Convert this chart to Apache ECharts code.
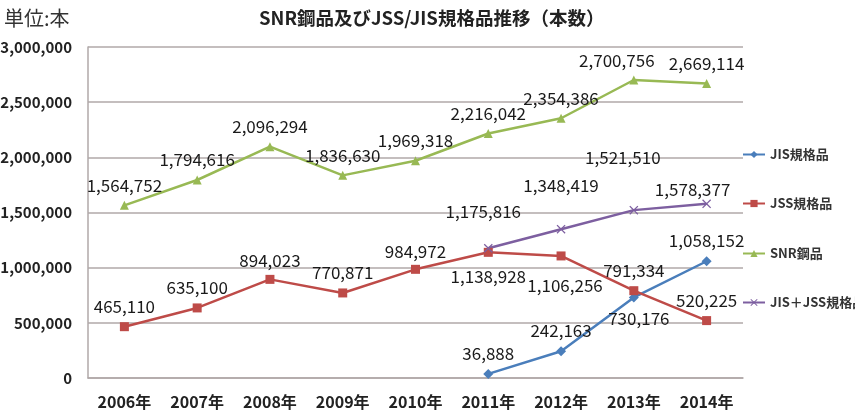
<!DOCTYPE html>
<html>
<head>
<meta charset="utf-8">
<script src="https://cdn.jsdelivr.net/npm/echarts@6/dist/echarts.min.js"></script>
<style>
  html, body { margin: 0; padding: 0; background: #fff; }
  #chart { width: 855px; height: 414px; }
</style>
</head>
<body>
<div id="chart"></div>
<script>
  // 年
  var years = ['2006年', '2007年', '2008年', '2009年', '2010年', '2011年', '2012年', '2013年', '2014年'];
  var seriesNames = ['JIS規格品', 'JSS規格品', 'SNR鋼品', 'JIS＋JSS規格品'];

  var jisData = [null, null, null, null, null, 36888, 242163, 730176, 1058152];
  var jssData = [465110, 635100, 894023, 770871, 984972, 1138928, 1106256, 791334, 520225];
  var snrData = [1564752, 1794616, 2096294, 1836630, 1969318, 2216042, 2354386, 2700756, 2669114];
  var sumData = [null, null, null, null, null, 1175816, 1348419, 1521510, 1578377];

  var colors = ['#4a7ebb', '#be4b48', '#98b954', '#7d5fa0'];
  var font = '"Noto Sans CJK JP", "Noto Sans", sans-serif';

  // 点ごとのラベル位置 [位置, 距離, 横ずれ] (Excel 風)
  var labelPlace = {
    jis: [null, null, null, null, null, ['top', 7, 0], ['top', 7, 0], ['bottom', 8, 5], ['top', 7, 0]],
    jss: [['top', 7, 0], ['top', 7, 0], ['top', 6, 0], ['top', 7, 0], ['top', 5, 0], ['bottom', 11, 0], ['bottom', 17, 4], ['top', 7, 0], ['top', 7, 0]],
    snr: [['top', 7, 0], ['top', 7, 0], ['top', 7, 0], ['top', 7, 0], ['top', 7, 0], ['top', 7, 0], ['top', 7, 0], ['top', 6, -17], ['top', 7, 0]],
    sum: [null, null, null, null, null, ['top', 24, -5], ['top', 31, 0], ['top', 40, -11], ['top', 1, -14]]
  };

  function build(values, places) {
    return values.map(function (v, i) {
      if (v == null) return '-';
      var p = places[i];
      return { value: v, label: { position: p[0], distance: p[1], offset: [p[2], 0] } };
    });
  }

  var crossPath = 'path://M0,1L1,0L5,4L9,0L10,1L6,5L10,9L9,10L5,6L1,10L0,9L4,5Z';

  function lineSeries(name, values, places, color, symbol, size) {
    return {
      name: name,
      type: 'line',
      data: build(values, places),
      symbol: symbol,
      symbolSize: size,
      showSymbol: true,
      lineStyle: { color: color, width: 2.5 },
      itemStyle: { color: color },
      label: {
        show: true,
        color: '#1a1a1a',
        fontFamily: font,
        fontSize: 17,
        formatter: function (p) { return p.value.toLocaleString('en-US'); }
      },
      z: 3
    };
  }

  var legendTops = [148, 197, 247, 296];
  var legends = seriesNames.map(function (n, i) {
    return {
      data: [n],
      left: 742,
      top: legendTops[i],
      orient: 'vertical',
      itemWidth: 22,
      itemHeight: 9,
      itemGap: 4,
      padding: 0,
      textStyle: { fontFamily: font, fontSize: 13, fontWeight: 'bold', color: '#333' }
    };
  });

  var chart = echarts.init(document.getElementById('chart'));
  chart.setOption({
    animation: false,
    backgroundColor: '#fff',
    color: colors,
    title: [
      {
        text: 'SNR鋼品及びJSS/JIS規格品推移（本数）',
        left: 254,
        top: 4,
        textStyle: { fontFamily: font, fontSize: 18.5, fontWeight: 'bold', color: '#222' }
      },
      {
        text: '単位:本',
        left: -1,
        top: 3,
        textStyle: { fontFamily: font, fontSize: 20, fontWeight: 'normal', color: '#333' }
      }
    ],
    legend: legends,
    grid: { left: 88, right: 112, top: 47, bottom: 36, outerBoundsMode: 'none' },
    xAxis: {
      type: 'category',
      data: years,
      boundaryGap: true,
      axisLine: { lineStyle: { color: '#b0a8a8', width: 1.5 } },
      axisTick: { show: false },
      axisLabel: { fontFamily: font, fontSize: 16, fontWeight: 'bold', color: '#222', margin: 16 }
    },
    yAxis: {
      type: 'value',
      min: 0,
      max: 3000000,
      interval: 500000,
      axisLine: { show: true, lineStyle: { color: '#b0a8a8', width: 1.5 } },
      axisTick: { show: false },
      splitLine: { lineStyle: { color: '#b0a8a8', width: 1.5 } },
      axisLabel: {
        fontFamily: font,
        fontSize: 15,
        fontWeight: 'bold',
        color: '#222',
        margin: 16,
        formatter: function (v) { return v.toLocaleString('en-US'); }
      }
    },
    series: [
      lineSeries(seriesNames[0], jisData, labelPlace.jis, colors[0], 'diamond', 10),
      lineSeries(seriesNames[1], jssData, labelPlace.jss, colors[1], 'rect', 9),
      lineSeries(seriesNames[2], snrData, labelPlace.snr, colors[2], 'triangle', 9),
      lineSeries(seriesNames[3], sumData, labelPlace.sum, colors[3], crossPath, 9)
    ]
  });
</script>
</body>
</html>
